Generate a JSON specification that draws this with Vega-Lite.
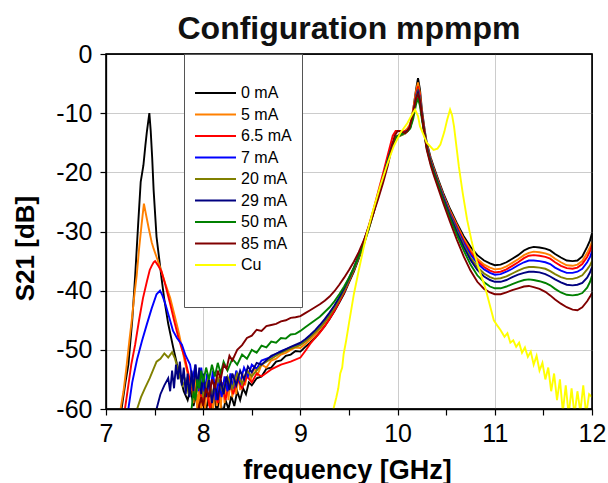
{
"$schema": "https://vega.github.io/schema/vega-lite/v6.json",
"width": 486, "height": 355,
"autosize": {"type": "none"},
"padding": {"left": 106, "top": 54, "right": 17, "bottom": 74},
"background": "white",
"title": {"text": "Configuration mpmpm", "font": "Liberation Sans", "fontSize": 32, "fontWeight": "bold", "color": "#111", "anchor": "middle", "offset": -4},
"config": {"view": {"stroke": "#000", "strokeWidth": 1.3}, "axis": {"domainColor": "#000", "domainWidth": 1.3, "tickColor": "#000", "tickWidth": 1.2, "labelFont": "Liberation Sans", "titleFont": "Liberation Sans", "labelColor": "#000", "titleColor": "#000"}},
"datasets": {
"S": [
{"s":"0 mA","f":7.00,"v":-64},{"s":"0 mA","f":7.12,"v":-62},{"s":"0 mA","f":7.16,"v":-60},{"s":"0 mA","f":7.20,"v":-55.5},{"s":"0 mA","f":7.23,"v":-52.5},{"s":"0 mA","f":7.27,"v":-45},{"s":"0 mA","f":7.30,"v":-37.5},{"s":"0 mA","f":7.33,"v":-29},{"s":"0 mA","f":7.357,"v":-21.6},{"s":"0 mA","f":7.385,"v":-18.8},{"s":"0 mA","f":7.405,"v":-15.5},{"s":"0 mA","f":7.42,"v":-13.2},{"s":"0 mA","f":7.446,"v":-10},{"s":"0 mA","f":7.46,"v":-13},{"s":"0 mA","f":7.475,"v":-17.5},{"s":"0 mA","f":7.49,"v":-23},{"s":"0 mA","f":7.52,"v":-30.9},{"s":"0 mA","f":7.57,"v":-37.7},{"s":"0 mA","f":7.60,"v":-41.5},{"s":"0 mA","f":7.64,"v":-45.6},{"s":"0 mA","f":7.69,"v":-49.5},{"s":"0 mA","f":7.73,"v":-52.4},{"s":"0 mA","f":7.77,"v":-55},{"s":"0 mA","f":7.80,"v":-57},{"s":"0 mA","f":7.84,"v":-58.5},{"s":"0 mA","f":7.87,"v":-56.5},{"s":"0 mA","f":7.90,"v":-59.5},{"s":"0 mA","f":7.93,"v":-57.5},{"s":"0 mA","f":7.96,"v":-60.5},{"s":"0 mA","f":7.99,"v":-58},{"s":"0 mA","f":8.02,"v":-61},{"s":"0 mA","f":8.05,"v":-58.5},{"s":"0 mA","f":8.08,"v":-60},{"s":"0 mA","f":8.11,"v":-57.5},{"s":"0 mA","f":8.14,"v":-60.5},{"s":"0 mA","f":8.17,"v":-58},{"s":"0 mA","f":8.20,"v":-61},{"s":"0 mA","f":8.23,"v":-58.5},{"s":"0 mA","f":8.26,"v":-60},{"s":"0 mA","f":8.29,"v":-57.8},{"s":"0 mA","f":8.32,"v":-59.5},{"s":"0 mA","f":8.35,"v":-57},{"s":"0 mA","f":8.38,"v":-58.5},{"s":"0 mA","f":8.41,"v":-56.5},{"s":"0 mA","f":8.44,"v":-57.5},{"s":"0 mA","f":8.47,"v":-55.5},{"s":"0 mA","f":8.50,"v":-56},{"s":"0 mA","f":8.55,"v":-54.8},{"s":"0 mA","f":8.60,"v":-54.5},{"s":"0 mA","f":8.65,"v":-53.2},{"s":"0 mA","f":8.70,"v":-53},{"s":"0 mA","f":8.75,"v":-52},{"s":"0 mA","f":8.80,"v":-51.8},{"s":"0 mA","f":8.85,"v":-51},{"s":"0 mA","f":8.90,"v":-50.8},{"s":"0 mA","f":8.95,"v":-50.2},{"s":"0 mA","f":9.00,"v":-50.3},
{"s":"0 mA","f":9.05,"v":-49.5},{"s":"0 mA","f":9.10,"v":-48.8},{"s":"0 mA","f":9.15,"v":-48},{"s":"0 mA","f":9.20,"v":-47},{"s":"0 mA","f":9.25,"v":-46},{"s":"0 mA","f":9.30,"v":-44.8},{"s":"0 mA","f":9.35,"v":-43.5},{"s":"0 mA","f":9.40,"v":-42},{"s":"0 mA","f":9.45,"v":-40.5},{"s":"0 mA","f":9.50,"v":-38.6},{"s":"0 mA","f":9.55,"v":-36.8},{"s":"0 mA","f":9.60,"v":-34.6},{"s":"0 mA","f":9.65,"v":-32.3},{"s":"0 mA","f":9.70,"v":-29.8},{"s":"0 mA","f":9.75,"v":-27},{"s":"0 mA","f":9.80,"v":-24},{"s":"0 mA","f":9.85,"v":-21.2},{"s":"0 mA","f":9.90,"v":-18.2},{"s":"0 mA","f":9.95,"v":-15.4},{"s":"0 mA","f":9.98,"v":-14.2},{"s":"0 mA","f":10.02,"v":-13.8},{"s":"0 mA","f":10.06,"v":-13.4},{"s":"0 mA","f":10.10,"v":-12.8},{"s":"0 mA","f":10.13,"v":-12},{"s":"0 mA","f":10.16,"v":-9.5},{"s":"0 mA","f":10.19,"v":-6},{"s":"0 mA","f":10.21,"v":-4.1},{"s":"0 mA","f":10.23,"v":-6},
{"s":"0 mA","f":10.25,"v":-9.4},{"s":"0 mA","f":10.28,"v":-13},{"s":"0 mA","f":10.30,"v":-15},{"s":"0 mA","f":10.34,"v":-17.5},{"s":"0 mA","f":10.37,"v":-19},{"s":"0 mA","f":10.42,"v":-21.3},{"s":"0 mA","f":10.47,"v":-23.5},{"s":"0 mA","f":10.54,"v":-26.2},{"s":"0 mA","f":10.61,"v":-28.6},{"s":"0 mA","f":10.68,"v":-30.8},{"s":"0 mA","f":10.75,"v":-32.6},{"s":"0 mA","f":10.82,"v":-34},{"s":"0 mA","f":10.89,"v":-34.9},{"s":"0 mA","f":10.95,"v":-35.4},{"s":"0 mA","f":11.00,"v":-35.7},{"s":"0 mA","f":11.06,"v":-35.6},{"s":"0 mA","f":11.12,"v":-35.2},{"s":"0 mA","f":11.18,"v":-34.6},{"s":"0 mA","f":11.24,"v":-34},{"s":"0 mA","f":11.30,"v":-33.2},{"s":"0 mA","f":11.35,"v":-32.8},{"s":"0 mA","f":11.40,"v":-32.6},{"s":"0 mA","f":11.46,"v":-32.7},{"s":"0 mA","f":11.52,"v":-32.9},{"s":"0 mA","f":11.57,"v":-33.2},{"s":"0 mA","f":11.62,"v":-33.8},{"s":"0 mA","f":11.68,"v":-34.4},{"s":"0 mA","f":11.74,"v":-34.9},{"s":"0 mA","f":11.80,"v":-35},{"s":"0 mA","f":11.85,"v":-34.9},{"s":"0 mA","f":11.90,"v":-34.2},{"s":"0 mA","f":11.95,"v":-32.6},{"s":"0 mA","f":11.98,"v":-31.5},{"s":"0 mA","f":12.00,"v":-30.3},

{"s":"5 mA","f":7.00,"v":-64},{"s":"5 mA","f":7.14,"v":-61},{"s":"5 mA","f":7.18,"v":-57},{"s":"5 mA","f":7.21,"v":-53},{"s":"5 mA","f":7.24,"v":-48.5},{"s":"5 mA","f":7.265,"v":-45},{"s":"5 mA","f":7.29,"v":-41},{"s":"5 mA","f":7.316,"v":-37.4},{"s":"5 mA","f":7.34,"v":-33},{"s":"5 mA","f":7.365,"v":-29},{"s":"5 mA","f":7.39,"v":-25.3},{"s":"5 mA","f":7.41,"v":-27},{"s":"5 mA","f":7.44,"v":-29.5},{"s":"5 mA","f":7.47,"v":-31.8},{"s":"5 mA","f":7.49,"v":-32.9},{"s":"5 mA","f":7.52,"v":-34.3},{"s":"5 mA","f":7.57,"v":-36.7},{"s":"5 mA","f":7.61,"v":-38.8},{"s":"5 mA","f":7.66,"v":-41.2},{"s":"5 mA","f":7.70,"v":-43.8},{"s":"5 mA","f":7.745,"v":-46.8},{"s":"5 mA","f":7.78,"v":-49.5},{"s":"5 mA","f":7.81,"v":-52},{"s":"5 mA","f":7.84,"v":-54},{"s":"5 mA","f":7.86,"v":-56.5},{"s":"5 mA","f":7.88,"v":-55},{"s":"5 mA","f":7.90,"v":-59},{"s":"5 mA","f":7.92,"v":-54.5},{"s":"5 mA","f":7.94,"v":-60.5},{"s":"5 mA","f":7.96,"v":-56},{"s":"5 mA","f":7.98,"v":-61},{"s":"5 mA","f":8.00,"v":-55.5},{"s":"5 mA","f":8.02,"v":-60},{"s":"5 mA","f":8.04,"v":-54.8},{"s":"5 mA","f":8.06,"v":-59.5},{"s":"5 mA","f":8.08,"v":-55.5},{"s":"5 mA","f":8.10,"v":-61},{"s":"5 mA","f":8.12,"v":-55},{"s":"5 mA","f":8.14,"v":-59.5},{"s":"5 mA","f":8.16,"v":-54.5},{"s":"5 mA","f":8.18,"v":-60},{"s":"5 mA","f":8.20,"v":-55.5},{"s":"5 mA","f":8.22,"v":-59},{"s":"5 mA","f":8.24,"v":-54.5},{"s":"5 mA","f":8.26,"v":-58.5},{"s":"5 mA","f":8.28,"v":-55},{"s":"5 mA","f":8.30,"v":-58},{"s":"5 mA","f":8.32,"v":-54.2},{"s":"5 mA","f":8.34,"v":-57.5},{"s":"5 mA","f":8.36,"v":-54},{"s":"5 mA","f":8.38,"v":-56.8},{"s":"5 mA","f":8.40,"v":-53.8},{"s":"5 mA","f":8.43,"v":-56},{"s":"5 mA","f":8.46,"v":-53.5},{"s":"5 mA","f":8.49,"v":-55.2},{"s":"5 mA","f":8.52,"v":-53},{"s":"5 mA","f":8.56,"v":-54.2},{"s":"5 mA","f":8.60,"v":-52.5},{"s":"5 mA","f":8.65,"v":-53},{"s":"5 mA","f":8.70,"v":-51.8},{"s":"5 mA","f":8.75,"v":-51.5},{"s":"5 mA","f":8.80,"v":-50.8},{"s":"5 mA","f":8.85,"v":-50.5},{"s":"5 mA","f":8.90,"v":-50},{"s":"5 mA","f":8.95,"v":-49.6},{"s":"5 mA","f":9.00,"v":-49.7},
{"s":"5 mA","f":9.05,"v":-49},{"s":"5 mA","f":9.10,"v":-48.3},{"s":"5 mA","f":9.15,"v":-47.5},{"s":"5 mA","f":9.20,"v":-46.5},{"s":"5 mA","f":9.25,"v":-45.5},{"s":"5 mA","f":9.30,"v":-44.3},{"s":"5 mA","f":9.35,"v":-43},{"s":"5 mA","f":9.40,"v":-41.6},{"s":"5 mA","f":9.45,"v":-40.1},{"s":"5 mA","f":9.50,"v":-38.3},{"s":"5 mA","f":9.55,"v":-36.5},{"s":"5 mA","f":9.60,"v":-34.3},{"s":"5 mA","f":9.65,"v":-32.1},{"s":"5 mA","f":9.70,"v":-29.6},{"s":"5 mA","f":9.75,"v":-26.9},{"s":"5 mA","f":9.80,"v":-23.9},{"s":"5 mA","f":9.85,"v":-21.1},{"s":"5 mA","f":9.90,"v":-18.1},{"s":"5 mA","f":9.95,"v":-15.2},{"s":"5 mA","f":9.98,"v":-14},{"s":"5 mA","f":10.02,"v":-13.6},{"s":"5 mA","f":10.06,"v":-13.2},{"s":"5 mA","f":10.10,"v":-12.6},{"s":"5 mA","f":10.13,"v":-11.8},{"s":"5 mA","f":10.16,"v":-9.4},{"s":"5 mA","f":10.19,"v":-6.2},{"s":"5 mA","f":10.21,"v":-4.8},{"s":"5 mA","f":10.23,"v":-6.6},
{"s":"5 mA","f":10.25,"v":-10},{"s":"5 mA","f":10.28,"v":-13.3},{"s":"5 mA","f":10.30,"v":-15.3},{"s":"5 mA","f":10.34,"v":-17.8},{"s":"5 mA","f":10.37,"v":-19.3},{"s":"5 mA","f":10.42,"v":-21.6},{"s":"5 mA","f":10.47,"v":-23.8},{"s":"5 mA","f":10.54,"v":-26.5},{"s":"5 mA","f":10.61,"v":-28.9},{"s":"5 mA","f":10.68,"v":-31.2},{"s":"5 mA","f":10.75,"v":-33.1},{"s":"5 mA","f":10.82,"v":-34.6},{"s":"5 mA","f":10.89,"v":-35.6},{"s":"5 mA","f":10.95,"v":-36.1},{"s":"5 mA","f":11.00,"v":-36.4},{"s":"5 mA","f":11.06,"v":-36.3},{"s":"5 mA","f":11.12,"v":-35.9},{"s":"5 mA","f":11.18,"v":-35.3},{"s":"5 mA","f":11.24,"v":-34.7},{"s":"5 mA","f":11.30,"v":-34},{"s":"5 mA","f":11.35,"v":-33.6},{"s":"5 mA","f":11.40,"v":-33.4},{"s":"5 mA","f":11.46,"v":-33.5},{"s":"5 mA","f":11.52,"v":-33.7},{"s":"5 mA","f":11.57,"v":-34},{"s":"5 mA","f":11.62,"v":-34.6},{"s":"5 mA","f":11.68,"v":-35.2},{"s":"5 mA","f":11.74,"v":-35.7},{"s":"5 mA","f":11.80,"v":-35.8},{"s":"5 mA","f":11.85,"v":-35.6},{"s":"5 mA","f":11.90,"v":-35},{"s":"5 mA","f":11.95,"v":-33.6},{"s":"5 mA","f":11.98,"v":-32.6},{"s":"5 mA","f":12.00,"v":-31.7},

{"s":"6.5 mA","f":7.00,"v":-64},{"s":"6.5 mA","f":7.17,"v":-62},{"s":"6.5 mA","f":7.195,"v":-60},{"s":"6.5 mA","f":7.23,"v":-56},{"s":"6.5 mA","f":7.26,"v":-52.5},{"s":"6.5 mA","f":7.30,"v":-49.1},{"s":"6.5 mA","f":7.34,"v":-45},{"s":"6.5 mA","f":7.38,"v":-41.3},{"s":"6.5 mA","f":7.42,"v":-38.5},{"s":"6.5 mA","f":7.45,"v":-36.5},{"s":"6.5 mA","f":7.47,"v":-35.8},{"s":"6.5 mA","f":7.49,"v":-35.2},{"s":"6.5 mA","f":7.505,"v":-35},{"s":"6.5 mA","f":7.53,"v":-35.6},{"s":"6.5 mA","f":7.57,"v":-36.7},{"s":"6.5 mA","f":7.61,"v":-39},{"s":"6.5 mA","f":7.66,"v":-42.2},{"s":"6.5 mA","f":7.70,"v":-45},{"s":"6.5 mA","f":7.745,"v":-47.9},{"s":"6.5 mA","f":7.78,"v":-49.8},{"s":"6.5 mA","f":7.81,"v":-51.3},{"s":"6.5 mA","f":7.84,"v":-53.5},{"s":"6.5 mA","f":7.87,"v":-55.5},{"s":"6.5 mA","f":7.91,"v":-58},{"s":"6.5 mA","f":7.95,"v":-55},{"s":"6.5 mA","f":7.99,"v":-59},{"s":"6.5 mA","f":8.03,"v":-56},{"s":"6.5 mA","f":8.07,"v":-60},{"s":"6.5 mA","f":8.11,"v":-56.5},{"s":"6.5 mA","f":8.15,"v":-59},{"s":"6.5 mA","f":8.19,"v":-55.5},{"s":"6.5 mA","f":8.23,"v":-58.5},{"s":"6.5 mA","f":8.27,"v":-55},{"s":"6.5 mA","f":8.31,"v":-57.5},{"s":"6.5 mA","f":8.35,"v":-54.8},{"s":"6.5 mA","f":8.40,"v":-56.5},{"s":"6.5 mA","f":8.45,"v":-54.5},{"s":"6.5 mA","f":8.50,"v":-55.5},{"s":"6.5 mA","f":8.55,"v":-54},{"s":"6.5 mA","f":8.60,"v":-54.5},{"s":"6.5 mA","f":8.70,"v":-53.3},{"s":"6.5 mA","f":8.80,"v":-52.5},{"s":"6.5 mA","f":8.90,"v":-52},{"s":"6.5 mA","f":9.00,"v":-51.3},
{"s":"6.5 mA","f":9.05,"v":-50.2},{"s":"6.5 mA","f":9.10,"v":-49},{"s":"6.5 mA","f":9.15,"v":-48},{"s":"6.5 mA","f":9.20,"v":-47.1},{"s":"6.5 mA","f":9.25,"v":-46},{"s":"6.5 mA","f":9.30,"v":-44.8},{"s":"6.5 mA","f":9.35,"v":-43.4},{"s":"6.5 mA","f":9.40,"v":-41.9},{"s":"6.5 mA","f":9.45,"v":-40.3},{"s":"6.5 mA","f":9.50,"v":-38.4},{"s":"6.5 mA","f":9.55,"v":-36.5},{"s":"6.5 mA","f":9.60,"v":-34.2},{"s":"6.5 mA","f":9.65,"v":-31.8},{"s":"6.5 mA","f":9.70,"v":-29.2},{"s":"6.5 mA","f":9.75,"v":-26.4},{"s":"6.5 mA","f":9.80,"v":-23.3},{"s":"6.5 mA","f":9.85,"v":-20.2},{"s":"6.5 mA","f":9.90,"v":-17},{"s":"6.5 mA","f":9.95,"v":-13.8},{"s":"6.5 mA","f":9.98,"v":-13},{"s":"6.5 mA","f":10.02,"v":-13},{"s":"6.5 mA","f":10.06,"v":-13.1},{"s":"6.5 mA","f":10.10,"v":-12.9},{"s":"6.5 mA","f":10.13,"v":-12.1},{"s":"6.5 mA","f":10.16,"v":-9.8},{"s":"6.5 mA","f":10.19,"v":-6.8},{"s":"6.5 mA","f":10.21,"v":-5.5},{"s":"6.5 mA","f":10.23,"v":-7},
{"s":"6.5 mA","f":10.25,"v":-10.3},{"s":"6.5 mA","f":10.28,"v":-13.5},{"s":"6.5 mA","f":10.30,"v":-15.5},{"s":"6.5 mA","f":10.34,"v":-18},{"s":"6.5 mA","f":10.37,"v":-19.5},{"s":"6.5 mA","f":10.42,"v":-21.8},{"s":"6.5 mA","f":10.47,"v":-24},{"s":"6.5 mA","f":10.54,"v":-26.8},{"s":"6.5 mA","f":10.61,"v":-29.2},{"s":"6.5 mA","f":10.68,"v":-31.6},{"s":"6.5 mA","f":10.75,"v":-33.5},{"s":"6.5 mA","f":10.82,"v":-35},{"s":"6.5 mA","f":10.89,"v":-36},{"s":"6.5 mA","f":10.95,"v":-36.6},{"s":"6.5 mA","f":11.00,"v":-36.9},{"s":"6.5 mA","f":11.06,"v":-36.8},{"s":"6.5 mA","f":11.12,"v":-36.4},{"s":"6.5 mA","f":11.18,"v":-35.8},{"s":"6.5 mA","f":11.24,"v":-35.2},{"s":"6.5 mA","f":11.30,"v":-34.5},{"s":"6.5 mA","f":11.35,"v":-34.1},{"s":"6.5 mA","f":11.40,"v":-34},{"s":"6.5 mA","f":11.46,"v":-34.1},{"s":"6.5 mA","f":11.52,"v":-34.3},{"s":"6.5 mA","f":11.57,"v":-34.6},{"s":"6.5 mA","f":11.62,"v":-35.2},{"s":"6.5 mA","f":11.68,"v":-35.8},{"s":"6.5 mA","f":11.74,"v":-36.2},{"s":"6.5 mA","f":11.80,"v":-36.3},{"s":"6.5 mA","f":11.85,"v":-36.1},{"s":"6.5 mA","f":11.90,"v":-35.5},{"s":"6.5 mA","f":11.95,"v":-34.3},{"s":"6.5 mA","f":11.98,"v":-33.3},{"s":"6.5 mA","f":12.00,"v":-32.3},

{"s":"7 mA","f":7.00,"v":-64},{"s":"7 mA","f":7.20,"v":-62},{"s":"7 mA","f":7.23,"v":-60},{"s":"7 mA","f":7.27,"v":-55.5},{"s":"7 mA","f":7.32,"v":-51.6},{"s":"7 mA","f":7.37,"v":-48.5},{"s":"7 mA","f":7.42,"v":-45.7},{"s":"7 mA","f":7.47,"v":-43},{"s":"7 mA","f":7.52,"v":-40.6},{"s":"7 mA","f":7.556,"v":-40},{"s":"7 mA","f":7.58,"v":-40.8},{"s":"7 mA","f":7.61,"v":-42.2},{"s":"7 mA","f":7.65,"v":-44.5},{"s":"7 mA","f":7.69,"v":-46.8},{"s":"7 mA","f":7.73,"v":-48},{"s":"7 mA","f":7.78,"v":-49.1},{"s":"7 mA","f":7.82,"v":-51},{"s":"7 mA","f":7.865,"v":-52.5},{"s":"7 mA","f":7.89,"v":-55},{"s":"7 mA","f":7.92,"v":-52.5},{"s":"7 mA","f":7.95,"v":-57},{"s":"7 mA","f":7.98,"v":-53},{"s":"7 mA","f":8.01,"v":-58},{"s":"7 mA","f":8.04,"v":-54},{"s":"7 mA","f":8.07,"v":-57.5},{"s":"7 mA","f":8.10,"v":-53.5},{"s":"7 mA","f":8.13,"v":-58.5},{"s":"7 mA","f":8.16,"v":-55},{"s":"7 mA","f":8.19,"v":-58},{"s":"7 mA","f":8.22,"v":-54.5},{"s":"7 mA","f":8.25,"v":-57},{"s":"7 mA","f":8.28,"v":-54},{"s":"7 mA","f":8.31,"v":-56.5},{"s":"7 mA","f":8.34,"v":-53.5},{"s":"7 mA","f":8.38,"v":-55.5},{"s":"7 mA","f":8.42,"v":-53},{"s":"7 mA","f":8.46,"v":-54.5},{"s":"7 mA","f":8.50,"v":-52.5},{"s":"7 mA","f":8.55,"v":-53.2},{"s":"7 mA","f":8.60,"v":-51.8},{"s":"7 mA","f":8.70,"v":-51.2},{"s":"7 mA","f":8.80,"v":-50.2},{"s":"7 mA","f":8.90,"v":-49.6},{"s":"7 mA","f":9.00,"v":-49},
{"s":"7 mA","f":9.05,"v":-48.5},{"s":"7 mA","f":9.10,"v":-47.8},{"s":"7 mA","f":9.15,"v":-47},{"s":"7 mA","f":9.20,"v":-46.2},{"s":"7 mA","f":9.25,"v":-45.2},{"s":"7 mA","f":9.30,"v":-44.1},{"s":"7 mA","f":9.35,"v":-42.8},{"s":"7 mA","f":9.40,"v":-41.4},{"s":"7 mA","f":9.45,"v":-39.9},{"s":"7 mA","f":9.50,"v":-38.1},{"s":"7 mA","f":9.55,"v":-36.3},{"s":"7 mA","f":9.60,"v":-34.2},{"s":"7 mA","f":9.65,"v":-32},{"s":"7 mA","f":9.70,"v":-29.5},{"s":"7 mA","f":9.75,"v":-26.8},{"s":"7 mA","f":9.80,"v":-23.8},{"s":"7 mA","f":9.85,"v":-21},{"s":"7 mA","f":9.90,"v":-18},{"s":"7 mA","f":9.95,"v":-15.2},{"s":"7 mA","f":9.98,"v":-14.1},{"s":"7 mA","f":10.02,"v":-13.8},{"s":"7 mA","f":10.06,"v":-13.5},{"s":"7 mA","f":10.10,"v":-13},{"s":"7 mA","f":10.13,"v":-12.3},{"s":"7 mA","f":10.16,"v":-10.2},{"s":"7 mA","f":10.19,"v":-7.2},{"s":"7 mA","f":10.21,"v":-6},{"s":"7 mA","f":10.23,"v":-7.5},
{"s":"7 mA","f":10.25,"v":-10.5},{"s":"7 mA","f":10.28,"v":-13.6},{"s":"7 mA","f":10.30,"v":-15.6},{"s":"7 mA","f":10.34,"v":-18.1},{"s":"7 mA","f":10.37,"v":-19.6},{"s":"7 mA","f":10.42,"v":-21.9},{"s":"7 mA","f":10.47,"v":-24.1},{"s":"7 mA","f":10.54,"v":-27},{"s":"7 mA","f":10.61,"v":-29.5},{"s":"7 mA","f":10.68,"v":-31.9},{"s":"7 mA","f":10.75,"v":-33.9},{"s":"7 mA","f":10.82,"v":-35.4},{"s":"7 mA","f":10.89,"v":-36.4},{"s":"7 mA","f":10.95,"v":-37},{"s":"7 mA","f":11.00,"v":-37.3},{"s":"7 mA","f":11.06,"v":-37.2},{"s":"7 mA","f":11.12,"v":-36.8},{"s":"7 mA","f":11.18,"v":-36.3},{"s":"7 mA","f":11.24,"v":-35.7},{"s":"7 mA","f":11.30,"v":-35.2},{"s":"7 mA","f":11.35,"v":-34.9},{"s":"7 mA","f":11.40,"v":-34.9},{"s":"7 mA","f":11.46,"v":-35},{"s":"7 mA","f":11.52,"v":-35.2},{"s":"7 mA","f":11.57,"v":-35.5},{"s":"7 mA","f":11.62,"v":-36.1},{"s":"7 mA","f":11.68,"v":-36.6},{"s":"7 mA","f":11.74,"v":-37},{"s":"7 mA","f":11.80,"v":-37},{"s":"7 mA","f":11.85,"v":-36.8},{"s":"7 mA","f":11.90,"v":-36.3},{"s":"7 mA","f":11.95,"v":-35.2},{"s":"7 mA","f":11.98,"v":-34.3},{"s":"7 mA","f":12.00,"v":-33.4},

{"s":"20 mA","f":7.00,"v":-64},{"s":"20 mA","f":7.30,"v":-62},{"s":"20 mA","f":7.32,"v":-60},{"s":"20 mA","f":7.36,"v":-58},{"s":"20 mA","f":7.40,"v":-56.5},{"s":"20 mA","f":7.45,"v":-54.8},{"s":"20 mA","f":7.52,"v":-52},{"s":"20 mA","f":7.56,"v":-51.5},{"s":"20 mA","f":7.60,"v":-50.6},{"s":"20 mA","f":7.64,"v":-51.3},{"s":"20 mA","f":7.68,"v":-50.4},{"s":"20 mA","f":7.71,"v":-51.5},{"s":"20 mA","f":7.73,"v":-52.7},{"s":"20 mA","f":7.76,"v":-54.5},{"s":"20 mA","f":7.79,"v":-56},{"s":"20 mA","f":7.82,"v":-55},{"s":"20 mA","f":7.85,"v":-57.5},{"s":"20 mA","f":7.88,"v":-55.5},{"s":"20 mA","f":7.92,"v":-58},{"s":"20 mA","f":7.96,"v":-55.2},{"s":"20 mA","f":8.00,"v":-57.8},{"s":"20 mA","f":8.05,"v":-55},{"s":"20 mA","f":8.10,"v":-57.5},{"s":"20 mA","f":8.15,"v":-54.8},{"s":"20 mA","f":8.20,"v":-57},{"s":"20 mA","f":8.25,"v":-54.5},{"s":"20 mA","f":8.30,"v":-56.5},{"s":"20 mA","f":8.35,"v":-54},{"s":"20 mA","f":8.40,"v":-55.8},{"s":"20 mA","f":8.45,"v":-53.5},{"s":"20 mA","f":8.50,"v":-54.5},{"s":"20 mA","f":8.60,"v":-52.5},{"s":"20 mA","f":8.70,"v":-51.5},{"s":"20 mA","f":8.80,"v":-50.5},{"s":"20 mA","f":8.90,"v":-49.8},{"s":"20 mA","f":9.00,"v":-49.2},
{"s":"20 mA","f":9.05,"v":-48.6},{"s":"20 mA","f":9.10,"v":-47.9},{"s":"20 mA","f":9.15,"v":-47.1},{"s":"20 mA","f":9.20,"v":-46.3},{"s":"20 mA","f":9.25,"v":-45.3},{"s":"20 mA","f":9.30,"v":-44.2},{"s":"20 mA","f":9.35,"v":-42.9},{"s":"20 mA","f":9.40,"v":-41.5},{"s":"20 mA","f":9.45,"v":-40},{"s":"20 mA","f":9.50,"v":-38.2},{"s":"20 mA","f":9.55,"v":-36.4},{"s":"20 mA","f":9.60,"v":-34.3},{"s":"20 mA","f":9.65,"v":-32.1},{"s":"20 mA","f":9.70,"v":-29.6},{"s":"20 mA","f":9.75,"v":-26.9},{"s":"20 mA","f":9.80,"v":-23.9},{"s":"20 mA","f":9.85,"v":-21.1},{"s":"20 mA","f":9.90,"v":-18.1},{"s":"20 mA","f":9.95,"v":-15.3},{"s":"20 mA","f":9.98,"v":-14.2},{"s":"20 mA","f":10.02,"v":-13.9},{"s":"20 mA","f":10.06,"v":-13.6},{"s":"20 mA","f":10.10,"v":-13.1},{"s":"20 mA","f":10.13,"v":-12.4},{"s":"20 mA","f":10.16,"v":-10.3},{"s":"20 mA","f":10.19,"v":-7.3},{"s":"20 mA","f":10.21,"v":-6.2},{"s":"20 mA","f":10.23,"v":-7.6},
{"s":"20 mA","f":10.25,"v":-10.5},{"s":"20 mA","f":10.28,"v":-13.7},{"s":"20 mA","f":10.30,"v":-15.7},{"s":"20 mA","f":10.34,"v":-18.2},{"s":"20 mA","f":10.37,"v":-19.7},{"s":"20 mA","f":10.42,"v":-22},{"s":"20 mA","f":10.47,"v":-24.3},{"s":"20 mA","f":10.54,"v":-27.2},{"s":"20 mA","f":10.61,"v":-29.8},{"s":"20 mA","f":10.68,"v":-32.3},{"s":"20 mA","f":10.75,"v":-34.4},{"s":"20 mA","f":10.82,"v":-36},{"s":"20 mA","f":10.89,"v":-37.1},{"s":"20 mA","f":10.95,"v":-37.7},{"s":"20 mA","f":11.00,"v":-38},{"s":"20 mA","f":11.06,"v":-37.9},{"s":"20 mA","f":11.12,"v":-37.6},{"s":"20 mA","f":11.18,"v":-37.1},{"s":"20 mA","f":11.24,"v":-36.6},{"s":"20 mA","f":11.30,"v":-36.2},{"s":"20 mA","f":11.35,"v":-36},{"s":"20 mA","f":11.40,"v":-36},{"s":"20 mA","f":11.46,"v":-36.1},{"s":"20 mA","f":11.52,"v":-36.3},{"s":"20 mA","f":11.57,"v":-36.7},{"s":"20 mA","f":11.62,"v":-37.2},{"s":"20 mA","f":11.68,"v":-37.7},{"s":"20 mA","f":11.74,"v":-38},{"s":"20 mA","f":11.80,"v":-38},{"s":"20 mA","f":11.85,"v":-37.8},{"s":"20 mA","f":11.90,"v":-37.4},{"s":"20 mA","f":11.95,"v":-36.4},{"s":"20 mA","f":11.98,"v":-35.7},{"s":"20 mA","f":12.00,"v":-35},

{"s":"29 mA","f":7.00,"v":-64},{"s":"29 mA","f":7.50,"v":-62},{"s":"29 mA","f":7.52,"v":-60},{"s":"29 mA","f":7.56,"v":-57.5},{"s":"29 mA","f":7.60,"v":-56},{"s":"29 mA","f":7.64,"v":-54.8},{"s":"29 mA","f":7.66,"v":-57},{"s":"29 mA","f":7.68,"v":-53.5},{"s":"29 mA","f":7.70,"v":-56.5},{"s":"29 mA","f":7.72,"v":-52.5},{"s":"29 mA","f":7.74,"v":-55},{"s":"29 mA","f":7.76,"v":-52},{"s":"29 mA","f":7.78,"v":-56},{"s":"29 mA","f":7.80,"v":-53},{"s":"29 mA","f":7.82,"v":-57.5},{"s":"29 mA","f":7.84,"v":-54},{"s":"29 mA","f":7.86,"v":-58},{"s":"29 mA","f":7.88,"v":-53.5},{"s":"29 mA","f":7.90,"v":-57},{"s":"29 mA","f":7.92,"v":-52.5},{"s":"29 mA","f":7.94,"v":-56.5},{"s":"29 mA","f":7.96,"v":-53},{"s":"29 mA","f":7.98,"v":-57.5},{"s":"29 mA","f":8.00,"v":-54},{"s":"29 mA","f":8.03,"v":-58},{"s":"29 mA","f":8.06,"v":-55},{"s":"29 mA","f":8.09,"v":-59},{"s":"29 mA","f":8.12,"v":-55.5},{"s":"29 mA","f":8.15,"v":-58.5},{"s":"29 mA","f":8.18,"v":-55},{"s":"29 mA","f":8.21,"v":-57.5},{"s":"29 mA","f":8.24,"v":-54.5},{"s":"29 mA","f":8.27,"v":-56.8},{"s":"29 mA","f":8.30,"v":-54},{"s":"29 mA","f":8.34,"v":-56},{"s":"29 mA","f":8.38,"v":-53.5},{"s":"29 mA","f":8.42,"v":-55},{"s":"29 mA","f":8.46,"v":-52.8},{"s":"29 mA","f":8.50,"v":-53.8},{"s":"29 mA","f":8.55,"v":-52.2},{"s":"29 mA","f":8.60,"v":-52.5},{"s":"29 mA","f":8.70,"v":-51},{"s":"29 mA","f":8.80,"v":-50.3},{"s":"29 mA","f":8.90,"v":-49.5},{"s":"29 mA","f":9.00,"v":-48.8},
{"s":"29 mA","f":9.05,"v":-48.2},{"s":"29 mA","f":9.10,"v":-47.5},{"s":"29 mA","f":9.15,"v":-46.7},{"s":"29 mA","f":9.20,"v":-45.8},{"s":"29 mA","f":9.25,"v":-44.8},{"s":"29 mA","f":9.30,"v":-43.7},{"s":"29 mA","f":9.35,"v":-42.5},{"s":"29 mA","f":9.40,"v":-41.1},{"s":"29 mA","f":9.45,"v":-39.6},{"s":"29 mA","f":9.50,"v":-37.9},{"s":"29 mA","f":9.55,"v":-36.1},{"s":"29 mA","f":9.60,"v":-34},{"s":"29 mA","f":9.65,"v":-31.8},{"s":"29 mA","f":9.70,"v":-29.4},{"s":"29 mA","f":9.75,"v":-26.7},{"s":"29 mA","f":9.80,"v":-23.7},{"s":"29 mA","f":9.85,"v":-20.9},{"s":"29 mA","f":9.90,"v":-17.9},{"s":"29 mA","f":9.95,"v":-15.1},{"s":"29 mA","f":9.98,"v":-14},{"s":"29 mA","f":10.02,"v":-13.7},{"s":"29 mA","f":10.06,"v":-13.4},{"s":"29 mA","f":10.10,"v":-13},{"s":"29 mA","f":10.13,"v":-12.4},{"s":"29 mA","f":10.16,"v":-10.4},{"s":"29 mA","f":10.19,"v":-7.6},{"s":"29 mA","f":10.21,"v":-6.5},{"s":"29 mA","f":10.23,"v":-8},
{"s":"29 mA","f":10.25,"v":-10.6},{"s":"29 mA","f":10.28,"v":-13.8},{"s":"29 mA","f":10.30,"v":-15.8},{"s":"29 mA","f":10.34,"v":-18.3},{"s":"29 mA","f":10.37,"v":-19.8},{"s":"29 mA","f":10.42,"v":-22.1},{"s":"29 mA","f":10.47,"v":-24.4},{"s":"29 mA","f":10.54,"v":-27.4},{"s":"29 mA","f":10.61,"v":-30.1},{"s":"29 mA","f":10.68,"v":-32.6},{"s":"29 mA","f":10.75,"v":-34.8},{"s":"29 mA","f":10.82,"v":-36.5},{"s":"29 mA","f":10.89,"v":-37.6},{"s":"29 mA","f":10.95,"v":-38.2},{"s":"29 mA","f":11.00,"v":-38.5},{"s":"29 mA","f":11.06,"v":-38.5},{"s":"29 mA","f":11.12,"v":-38.2},{"s":"29 mA","f":11.18,"v":-37.7},{"s":"29 mA","f":11.24,"v":-37.3},{"s":"29 mA","f":11.30,"v":-37},{"s":"29 mA","f":11.35,"v":-36.8},{"s":"29 mA","f":11.40,"v":-36.8},{"s":"29 mA","f":11.46,"v":-36.9},{"s":"29 mA","f":11.52,"v":-37.2},{"s":"29 mA","f":11.57,"v":-37.6},{"s":"29 mA","f":11.62,"v":-38.1},{"s":"29 mA","f":11.68,"v":-38.6},{"s":"29 mA","f":11.74,"v":-39},{"s":"29 mA","f":11.80,"v":-39.1},{"s":"29 mA","f":11.85,"v":-39},{"s":"29 mA","f":11.90,"v":-38.7},{"s":"29 mA","f":11.95,"v":-37.8},{"s":"29 mA","f":11.98,"v":-36.9},{"s":"29 mA","f":12.00,"v":-36},

{"s":"50 mA","f":7.00,"v":-64},{"s":"50 mA","f":7.86,"v":-62},{"s":"50 mA","f":7.88,"v":-60},{"s":"50 mA","f":7.90,"v":-57},{"s":"50 mA","f":7.92,"v":-58.5},{"s":"50 mA","f":7.94,"v":-55},{"s":"50 mA","f":7.96,"v":-56.5},{"s":"50 mA","f":7.98,"v":-53.5},{"s":"50 mA","f":8.00,"v":-55.5},{"s":"50 mA","f":8.03,"v":-53},{"s":"50 mA","f":8.06,"v":-55},{"s":"50 mA","f":8.09,"v":-52.5},{"s":"50 mA","f":8.12,"v":-54.5},{"s":"50 mA","f":8.15,"v":-52.2},{"s":"50 mA","f":8.18,"v":-54},{"s":"50 mA","f":8.21,"v":-52},{"s":"50 mA","f":8.25,"v":-53.5},{"s":"50 mA","f":8.30,"v":-51.5},{"s":"50 mA","f":8.35,"v":-52.5},{"s":"50 mA","f":8.40,"v":-50.8},{"s":"50 mA","f":8.45,"v":-51.5},{"s":"50 mA","f":8.50,"v":-50},{"s":"50 mA","f":8.55,"v":-50.5},{"s":"50 mA","f":8.60,"v":-49.3},{"s":"50 mA","f":8.65,"v":-49.6},{"s":"50 mA","f":8.70,"v":-48.6},{"s":"50 mA","f":8.75,"v":-48.8},{"s":"50 mA","f":8.80,"v":-48},{"s":"50 mA","f":8.85,"v":-48.1},{"s":"50 mA","f":8.90,"v":-47.4},{"s":"50 mA","f":8.95,"v":-47.3},{"s":"50 mA","f":9.00,"v":-46.8},{"s":"50 mA","f":9.05,"v":-46.2},{"s":"50 mA","f":9.10,"v":-45.6},{"s":"50 mA","f":9.15,"v":-45},{"s":"50 mA","f":9.20,"v":-44.4},{"s":"50 mA","f":9.25,"v":-43.6},{"s":"50 mA","f":9.30,"v":-42.8},{"s":"50 mA","f":9.35,"v":-41.8},{"s":"50 mA","f":9.40,"v":-40.6},{"s":"50 mA","f":9.45,"v":-39.3},{"s":"50 mA","f":9.50,"v":-37.8},{"s":"50 mA","f":9.55,"v":-36.1},{"s":"50 mA","f":9.60,"v":-34.2},{"s":"50 mA","f":9.65,"v":-32},{"s":"50 mA","f":9.70,"v":-29.6},{"s":"50 mA","f":9.75,"v":-26.8},{"s":"50 mA","f":9.80,"v":-23.9},{"s":"50 mA","f":9.85,"v":-21.1},{"s":"50 mA","f":9.90,"v":-18.1},{"s":"50 mA","f":9.95,"v":-15.2},{"s":"50 mA","f":9.98,"v":-14.1},{"s":"50 mA","f":10.02,"v":-13.7},{"s":"50 mA","f":10.06,"v":-13.4},{"s":"50 mA","f":10.10,"v":-13.1},{"s":"50 mA","f":10.13,"v":-12.6},{"s":"50 mA","f":10.16,"v":-11},{"s":"50 mA","f":10.19,"v":-8.5},{"s":"50 mA","f":10.21,"v":-7.5},{"s":"50 mA","f":10.23,"v":-8.8},
{"s":"50 mA","f":10.25,"v":-11},{"s":"50 mA","f":10.28,"v":-14},{"s":"50 mA","f":10.30,"v":-16},{"s":"50 mA","f":10.34,"v":-18.5},{"s":"50 mA","f":10.37,"v":-20},{"s":"50 mA","f":10.42,"v":-22.3},{"s":"50 mA","f":10.47,"v":-24.7},{"s":"50 mA","f":10.54,"v":-27.8},{"s":"50 mA","f":10.61,"v":-30.6},{"s":"50 mA","f":10.68,"v":-33.2},{"s":"50 mA","f":10.75,"v":-35.6},{"s":"50 mA","f":10.82,"v":-37.4},{"s":"50 mA","f":10.89,"v":-38.6},{"s":"50 mA","f":10.95,"v":-39.3},{"s":"50 mA","f":11.00,"v":-39.6},{"s":"50 mA","f":11.06,"v":-39.6},{"s":"50 mA","f":11.12,"v":-39.3},{"s":"50 mA","f":11.18,"v":-38.9},{"s":"50 mA","f":11.24,"v":-38.5},{"s":"50 mA","f":11.30,"v":-38.2},{"s":"50 mA","f":11.35,"v":-38.1},{"s":"50 mA","f":11.40,"v":-38.2},{"s":"50 mA","f":11.46,"v":-38.4},{"s":"50 mA","f":11.52,"v":-38.7},{"s":"50 mA","f":11.57,"v":-39.1},{"s":"50 mA","f":11.62,"v":-39.7},{"s":"50 mA","f":11.68,"v":-40.3},{"s":"50 mA","f":11.74,"v":-40.7},{"s":"50 mA","f":11.80,"v":-40.8},{"s":"50 mA","f":11.85,"v":-40.7},{"s":"50 mA","f":11.90,"v":-40.4},{"s":"50 mA","f":11.95,"v":-39.5},{"s":"50 mA","f":11.98,"v":-38.5},{"s":"50 mA","f":12.00,"v":-37.5},

{"s":"85 mA","f":7.00,"v":-64},{"s":"85 mA","f":7.93,"v":-62},{"s":"85 mA","f":7.95,"v":-60},{"s":"85 mA","f":7.98,"v":-58},{"s":"85 mA","f":8.00,"v":-59.5},{"s":"85 mA","f":8.03,"v":-56.5},{"s":"85 mA","f":8.06,"v":-58},{"s":"85 mA","f":8.09,"v":-55},{"s":"85 mA","f":8.12,"v":-56.5},{"s":"85 mA","f":8.15,"v":-53.5},{"s":"85 mA","f":8.18,"v":-55},{"s":"85 mA","f":8.21,"v":-52.5},{"s":"85 mA","f":8.24,"v":-53.2},{"s":"85 mA","f":8.27,"v":-51},{"s":"85 mA","f":8.30,"v":-51.8},{"s":"85 mA","f":8.35,"v":-50},{"s":"85 mA","f":8.40,"v":-49.2},{"s":"85 mA","f":8.45,"v":-48},{"s":"85 mA","f":8.50,"v":-47.6},{"s":"85 mA","f":8.55,"v":-46.6},{"s":"85 mA","f":8.60,"v":-46.8},{"s":"85 mA","f":8.65,"v":-46},{"s":"85 mA","f":8.70,"v":-45.8},{"s":"85 mA","f":8.75,"v":-45.6},{"s":"85 mA","f":8.80,"v":-45.2},{"s":"85 mA","f":8.85,"v":-45},{"s":"85 mA","f":8.90,"v":-44.6},{"s":"85 mA","f":8.95,"v":-44.5},{"s":"85 mA","f":9.00,"v":-44.3},{"s":"85 mA","f":9.05,"v":-43.8},{"s":"85 mA","f":9.10,"v":-43.3},{"s":"85 mA","f":9.15,"v":-42.8},{"s":"85 mA","f":9.20,"v":-42.3},{"s":"85 mA","f":9.25,"v":-41.7},{"s":"85 mA","f":9.30,"v":-41},{"s":"85 mA","f":9.35,"v":-40.1},{"s":"85 mA","f":9.40,"v":-39},{"s":"85 mA","f":9.45,"v":-37.8},{"s":"85 mA","f":9.50,"v":-36.5},{"s":"85 mA","f":9.55,"v":-35.1},{"s":"85 mA","f":9.60,"v":-33.5},{"s":"85 mA","f":9.65,"v":-31.6},{"s":"85 mA","f":9.70,"v":-29.4},{"s":"85 mA","f":9.75,"v":-27},{"s":"85 mA","f":9.80,"v":-24.5},{"s":"85 mA","f":9.85,"v":-21.8},{"s":"85 mA","f":9.90,"v":-18.8},{"s":"85 mA","f":9.94,"v":-15.8},{"s":"85 mA","f":9.97,"v":-13.8},{"s":"85 mA","f":10.00,"v":-13},{"s":"85 mA","f":10.04,"v":-13.1},{"s":"85 mA","f":10.08,"v":-13.4},{"s":"85 mA","f":10.12,"v":-12.6},{"s":"85 mA","f":10.16,"v":-10},{"s":"85 mA","f":10.19,"v":-7.5},{"s":"85 mA","f":10.21,"v":-6.8},{"s":"85 mA","f":10.23,"v":-8},
{"s":"85 mA","f":10.25,"v":-10.5},{"s":"85 mA","f":10.28,"v":-14},{"s":"85 mA","f":10.30,"v":-16.2},{"s":"85 mA","f":10.34,"v":-18.8},{"s":"85 mA","f":10.37,"v":-20.4},{"s":"85 mA","f":10.42,"v":-22.8},{"s":"85 mA","f":10.47,"v":-25.2},{"s":"85 mA","f":10.54,"v":-28.4},{"s":"85 mA","f":10.61,"v":-31.4},{"s":"85 mA","f":10.68,"v":-34.2},{"s":"85 mA","f":10.75,"v":-36.6},{"s":"85 mA","f":10.82,"v":-38.5},{"s":"85 mA","f":10.89,"v":-39.7},{"s":"85 mA","f":10.95,"v":-40.3},{"s":"85 mA","f":11.00,"v":-40.6},{"s":"85 mA","f":11.06,"v":-40.6},{"s":"85 mA","f":11.12,"v":-40.3},{"s":"85 mA","f":11.18,"v":-39.9},{"s":"85 mA","f":11.24,"v":-39.6},{"s":"85 mA","f":11.30,"v":-39.3},{"s":"85 mA","f":11.35,"v":-39.2},{"s":"85 mA","f":11.40,"v":-39.4},{"s":"85 mA","f":11.46,"v":-39.7},{"s":"85 mA","f":11.52,"v":-40.2},{"s":"85 mA","f":11.57,"v":-40.8},{"s":"85 mA","f":11.62,"v":-41.5},{"s":"85 mA","f":11.68,"v":-42.2},{"s":"85 mA","f":11.74,"v":-42.8},{"s":"85 mA","f":11.80,"v":-43.2},{"s":"85 mA","f":11.85,"v":-43.3},{"s":"85 mA","f":11.90,"v":-42.8},{"s":"85 mA","f":11.95,"v":-41.8},{"s":"85 mA","f":11.98,"v":-41},{"s":"85 mA","f":12.00,"v":-40.4},

{"s":"Cu","f":9.30,"v":-63},{"s":"Cu","f":9.34,"v":-60},{"s":"Cu","f":9.37,"v":-58},{"s":"Cu","f":9.39,"v":-56.5},{"s":"Cu","f":9.41,"v":-54},{"s":"Cu","f":9.43,"v":-53},{"s":"Cu","f":9.445,"v":-50.7},{"s":"Cu","f":9.47,"v":-48.5},{"s":"Cu","f":9.50,"v":-45.5},{"s":"Cu","f":9.55,"v":-40.6},{"s":"Cu","f":9.60,"v":-36.6},{"s":"Cu","f":9.65,"v":-32.8},{"s":"Cu","f":9.685,"v":-30.3},{"s":"Cu","f":9.75,"v":-26.3},{"s":"Cu","f":9.82,"v":-22.4},{"s":"Cu","f":9.89,"v":-18.8},{"s":"Cu","f":9.96,"v":-15.6},{"s":"Cu","f":10.03,"v":-13.3},{"s":"Cu","f":10.10,"v":-11.7},{"s":"Cu","f":10.15,"v":-10.2},{"s":"Cu","f":10.18,"v":-9.4},{"s":"Cu","f":10.21,"v":-10.5},{"s":"Cu","f":10.23,"v":-12.2},{"s":"Cu","f":10.30,"v":-15},{"s":"Cu","f":10.37,"v":-16.2},{"s":"Cu","f":10.41,"v":-16},{"s":"Cu","f":10.44,"v":-15.3},{"s":"Cu","f":10.48,"v":-13.2},{"s":"Cu","f":10.51,"v":-11.1},{"s":"Cu","f":10.54,"v":-9.4},{"s":"Cu","f":10.56,"v":-10.3},{"s":"Cu","f":10.58,"v":-12.2},{"s":"Cu","f":10.63,"v":-19},{"s":"Cu","f":10.67,"v":-23.5},{"s":"Cu","f":10.715,"v":-28},{"s":"Cu","f":10.76,"v":-31.5},{"s":"Cu","f":10.80,"v":-34.3},{"s":"Cu","f":10.85,"v":-37},{"s":"Cu","f":10.90,"v":-39.4},{"s":"Cu","f":10.95,"v":-42.5},{"s":"Cu","f":10.99,"v":-45},{"s":"Cu","f":11.03,"v":-46},{"s":"Cu","f":11.06,"v":-46.7},{"s":"Cu","f":11.10,"v":-47.8},{"s":"Cu","f":11.13,"v":-47.2},{"s":"Cu","f":11.16,"v":-48.8},{"s":"Cu","f":11.19,"v":-48.4},{"s":"Cu","f":11.22,"v":-49.5},{"s":"Cu","f":11.25,"v":-48.8},{"s":"Cu","f":11.28,"v":-50.5},{"s":"Cu","f":11.31,"v":-49.6},{"s":"Cu","f":11.34,"v":-51.2},{"s":"Cu","f":11.37,"v":-50.3},{"s":"Cu","f":11.40,"v":-52.5},{"s":"Cu","f":11.43,"v":-51},{"s":"Cu","f":11.46,"v":-53.5},{"s":"Cu","f":11.49,"v":-52.2},{"s":"Cu","f":11.52,"v":-55},{"s":"Cu","f":11.55,"v":-53},{"s":"Cu","f":11.58,"v":-57},{"s":"Cu","f":11.61,"v":-54},{"s":"Cu","f":11.64,"v":-58.5},{"s":"Cu","f":11.67,"v":-55},{"s":"Cu","f":11.70,"v":-60.5},{"s":"Cu","f":11.73,"v":-56},{"s":"Cu","f":11.76,"v":-61},{"s":"Cu","f":11.79,"v":-56.5},{"s":"Cu","f":11.82,"v":-61},{"s":"Cu","f":11.85,"v":-57},{"s":"Cu","f":11.88,"v":-60.5},{"s":"Cu","f":11.91,"v":-56},{"s":"Cu","f":11.94,"v":-61},{"s":"Cu","f":11.97,"v":-57.5},{"s":"Cu","f":12.00,"v":-58}
]},
"layer": [
 {"data": {"name": "S"},
  "mark": {"type": "line", "clip": true, "strokeWidth": 1.9},
  "encoding": {
   "x": {"field": "f", "type": "quantitative", "scale": {"domain": [7, 12], "nice": false, "zero": false},
     "axis": {"title": "frequency [GHz]", "values": [7,7.5,8,8.5,9,9.5,10,10.5,11,11.5,12], "labelExpr": "datum.value % 1 === 0 ? format(datum.value, 'd') : ''", "tickSize": 6, "grid": true, "gridColor": "#cccccc", "gridWidth": 1, "gridOpacity": {"condition": {"test": "datum.value % 1 === 0 && datum.value > 7 && datum.value < 12", "value": 1}, "value": 0}, "labelFontSize": 25, "labelPadding": 6, "labelFlush": false, "titleFontSize": 27, "titleFontWeight": "bold", "titleY": 69, "titleX": 241, "titleBaseline": "alphabetic"}},
   "y": {"field": "v", "type": "quantitative", "scale": {"domain": [-60, 0], "nice": false, "zero": false},
     "axis": {"title": "S21 [dB]", "values": [-60,-55,-50,-45,-40,-35,-30,-25,-20,-15,-10,-5,0], "labelExpr": "datum.value % 10 === 0 ? replace(datum.label, '−', '-') : ''", "tickSize": 6, "grid": true, "gridColor": "#cccccc", "gridWidth": 1, "gridOpacity": {"condition": {"test": "datum.value % 10 === 0 && datum.value > -60 && datum.value < 0", "value": 1}, "value": 0}, "labelFontSize": 25, "labelPadding": 8, "labelFlush": false, "titleFontSize": 26, "titleFontWeight": "bold", "titleAngle": -90, "titleX": -73, "titleY": 194, "titleAlign": "center", "titleBaseline": "alphabetic"}},
   "color": {"field": "s", "type": "nominal",
     "scale": {"domain": ["0 mA","5 mA","6.5 mA","7 mA","20 mA","29 mA","50 mA","85 mA","Cu"," "], "range": ["#000000","#ff8000","#ff0000","#0000ff","#808000","#000080","#008000","#800000","#ffff00","rgba(0,0,0,0)"]},
     "legend": {"orient": "none", "legendX": 78, "legendY": 0, "title": " ", "titleFontSize": 14, "titlePadding": 5, "padding": 10, "strokeColor": "#555", "fillColor": "white", "symbolType": "stroke", "symbolSize": 1681, "symbolStrokeWidth": 2, "labelFontSize": 16, "labelFont": "Liberation Sans", "labelColor": "#000", "labelOffset": 4, "rowPadding": 1.5, "clipHeight": 20}}
  }},
 {"data": {"values": [{}]},
  "mark": {"type": "rect", "fill": "transparent", "stroke": "#000", "strokeWidth": 1.3},
  "encoding": {
   "x": {"datum": 7, "type": "quantitative"},
   "x2": {"datum": 12},
   "y": {"datum": 0, "type": "quantitative"},
   "y2": {"datum": -60}
  }}
]
}
